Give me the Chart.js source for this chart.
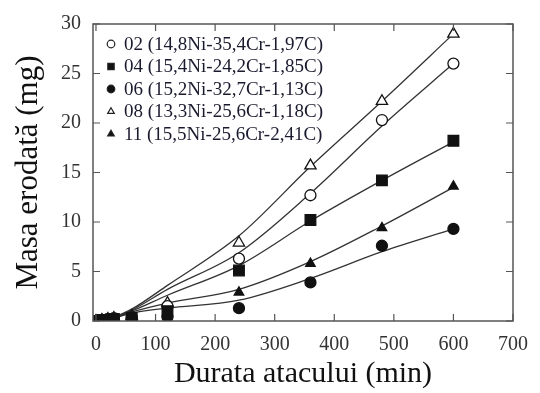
<!DOCTYPE html>
<html>
<head>
<meta charset="utf-8">
<script src="https://cdn.jsdelivr.net/npm/chart.js@4.4.1/dist/chart.umd.min.js"></script>
<style>
  body { margin: 0; background: #fff; font-family: "Liberation Serif", serif; }
  #wrap { width: 540px; height: 393px; }
</style>
</head>
<body>
<div id="wrap"><canvas id="erosionChart"></canvas></div>
<script>
// timpii de masurare (min)
const times = [0, 10, 20, 30, 60, 120, 240, 360, 480, 600];

// masa erodata (mg) pentru fiecare proba
const mass02 = [0, 0.1, 0.2, 0.3, 0.4, 1.5, 6.3, 12.7, 20.3, 26.0];
const mass04 = [0, 0.1, 0.1, 0.2, 0.3, 1.0, 5.1, 10.2, 14.2, 18.2];
const mass06 = [0, 0.0, 0.1, 0.1, 0.2, 0.4, 1.3, 3.9, 7.6, 9.3];
const mass08 = [0, 0.1, 0.2, 0.3, 0.5, 1.8, 7.9, 15.7, 22.2, 29.0];
const mass11 = [0, 0.1, 0.1, 0.2, 0.3, 0.8, 2.9, 5.8, 9.4, 13.6];

// curbele de regresie
const fitTimes = [20, 60, 120, 240, 360, 480, 600];
const fit02 = [0.1, 1.1, 3.2, 6.9, 12.9, 19.7, 26.0];
const fit04 = [0.1, 1.0, 2.6, 5.6, 10.1, 14.2, 18.1];
const fit06 = [0.1, 0.8, 1.3, 2.1, 4.3, 7.0, 9.3];
const fit08 = [0.1, 1.2, 3.6, 8.6, 15.6, 22.2, 29.0];
const fit11 = [0.1, 0.9, 1.8, 3.2, 6.0, 9.6, 13.5];

const labels = [
    '02 (14,8Ni-35,4Cr-1,97C)',
    '04 (15,4Ni-24,2Cr-1,85C)',
    '06 (15,2Ni-32,7Cr-1,13C)',
    '08 (13,3Ni-25,6Cr-1,18C)',
    '11 (15,5Ni-25,6Cr-2,41C)',
];

const xTicks = [0, 100, 200, 300, 400, 500, 600, 700];
const yTicks = [0, 5, 10, 15, 20, 25, 30];

const FONT = '"Liberation Serif", "Times New Roman", serif';

const toPoints = (xs, ys) => xs.map((x, i) => ({ x: x, y: ys[i] }));

// order: patratele pline deasupra (ca in figura)
const markers = [
    { style: 'circle', fill: '#fff', radius: 5.5, order: 1 },
    { style: 'rect', fill: '#111', radius: 7.5, order: 0 },
    { style: 'circle', fill: '#111', radius: 5.5, order: 1 },
    { style: 'triangle', fill: '#fff', radius: 6.5, order: 1 },
    { style: 'triangle', fill: '#111', radius: 5.5, order: 1 },
];
const massSeries = [mass02, mass04, mass06, mass08, mass11];
const fitSeries = [fit02, fit04, fit06, fit08, fit11];

const datasets = [];
// linii de regresie (sub puncte)
fitSeries.forEach((f) => {
    datasets.push({
        label: '',
        data: toPoints(fitTimes, f),
        showLine: true,
        borderColor: '#333',
        borderWidth: 1.3,
        pointRadius: 0,
        cubicInterpolationMode: 'monotone',
        order: 2,
    });
});
// punctele experimentale
massSeries.forEach((m, i) => {
    datasets.push({
        label: labels[i],
        data: toPoints(times, m),
        showLine: false,
        pointStyle: markers[i].style,
        pointRadius: markers[i].radius,
        pointBackgroundColor: markers[i].fill,
        pointBorderColor: '#111',
        pointBorderWidth: 1.3,
        order: markers[i].order,
    });
});

// rama, gradatii spre interior si legenda in interiorul graficului
const framePlugin = {
    id: 'frame',
    afterDraw(chart) {
        const ctx = chart.ctx;
        const a = chart.chartArea;
        const xs = chart.scales.x;
        const ys = chart.scales.y;
        ctx.save();
        ctx.strokeStyle = '#555';
        ctx.lineWidth = 1.5;
        ctx.strokeRect(a.left, a.top, a.right - a.left, a.bottom - a.top);
        ctx.lineWidth = 1.2;
        ctx.beginPath();
        xTicks.forEach((v) => {
            const px = xs.getPixelForValue(v);
            ctx.moveTo(px, a.bottom); ctx.lineTo(px, a.bottom - 7);
            ctx.moveTo(px, a.top); ctx.lineTo(px, a.top + 7);
        });
        yTicks.forEach((v) => {
            const py = ys.getPixelForValue(v);
            ctx.moveTo(a.left, py); ctx.lineTo(a.left + 7, py);
            ctx.moveTo(a.right, py); ctx.lineTo(a.right - 7, py);
        });
        ctx.stroke();

        // legenda
        ctx.font = '19px ' + FONT;
        ctx.textBaseline = 'middle';
        ctx.textAlign = 'left';
        labels.forEach((txt, i) => {
            const y = a.top + 20 + i * 22.5;
            const x = a.left + 18;
            ctx.fillStyle = markers[i].fill;
            ctx.strokeStyle = '#222';
            ctx.lineWidth = 1.2;
            Chart.helpers.drawPoint(ctx, {
                pointStyle: markers[i].style,
                radius: markers[i].style === 'rect' ? 4.5 : 3.8,
                rotation: 0,
                borderWidth: 1.2,
            }, x, y);
            ctx.fillStyle = '#1a1a2e';
            ctx.fillText(txt, x + 13, y + 1);
        });
        ctx.restore();
    },
};

Chart.defaults.font.family = FONT;

function drawChart() {
    new Chart(document.getElementById('erosionChart'), {
        type: 'scatter',
        data: { datasets: datasets },
        options: {
            responsive: true,
            maintainAspectRatio: false,
            animation: false,
            layout: { padding: { top: 20, right: 21, left: 0, bottom: 0 } },
            plugins: {
                legend: { display: false },
                tooltip: { enabled: false },
            },
            scales: {
                x: {
                    type: 'linear',
                    min: -5,
                    max: 700,
                    afterBuildTicks: (s) => { s.ticks = xTicks.map((v) => ({ value: v })); },
                    afterFit: (s) => { s.height = 72; },
                    grid: { display: false, drawTicks: false },
                    border: { display: false },
                    ticks: { color: '#333', padding: 12, font: { size: 20 } },
                    title: {
                        display: true,
                        text: 'Durata atacului (min)',
                        color: '#111',
                        font: { size: 30 },
                        padding: { top: 0, bottom: 1 },
                    },
                },
                y: {
                    min: 0,
                    max: 30,
                    afterBuildTicks: (s) => { s.ticks = yTicks.map((v) => ({ value: v })); },
                    afterFit: (s) => { s.width = 93; },
                    grid: { display: false, drawTicks: false },
                    border: { display: false },
                    ticks: { color: '#333', padding: 12, font: { size: 20 } },
                    title: {
                        display: true,
                        text: 'Masa erodată (mg)',
                        color: '#111',
                        font: { size: 31 },
                        padding: { top: 10, bottom: 0 },
                    },
                },
            },
            elements: { point: { hitRadius: 0 } },
        },
        plugins: [framePlugin],
    });
}

// asteptam fontul local inainte de desenare
document.fonts.load('20px "Liberation Serif"').then(drawChart, drawChart);
</script>
</body>
</html>
